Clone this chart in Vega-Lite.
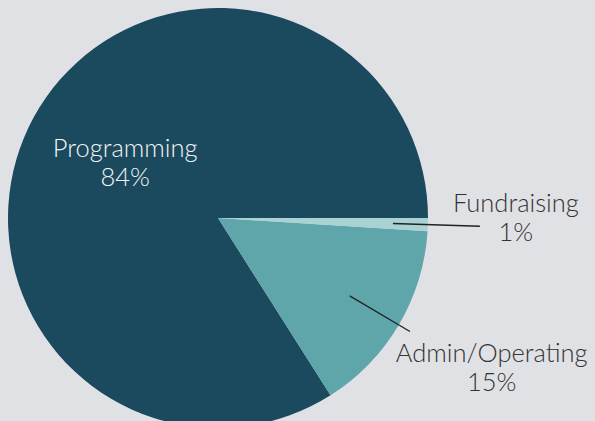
{
  "$schema": "https://vega.github.io/schema/vega-lite/v6.json",
  "autosize": "none",
  "width": 436,
  "height": 436,
  "padding": {"left": 0, "top": 0, "right": 159, "bottom": -15},
  "background": "#e0e1e5",
  "config": {"view": {"stroke": null}},
  "data": {
    "values": [
      {"category": "Programming", "value": 84},
      {"category": "Admin/Operating", "value": 15},
      {"category": "Fundraising", "value": 1}
    ]
  },
  "transform": [
    {"window": [{"op": "sum", "field": "value", "as": "cum"}], "sort": [{"field": "value", "order": "ascending"}], "frame": [null, 0]},
    {"calculate": "datum.cum - datum.value / 2", "as": "mid"},
    {"calculate": "[datum.category, datum.value + '%']", "as": "label"}
  ],
  "layer": [
    {
      "mark": {"type": "arc", "radius": 210},
      "encoding": {
        "theta": {"field": "value", "type": "quantitative", "stack": true, "scale": {"domain": [0, 100], "range": [1.5708, 7.8540]}},
        "order": {"field": "value", "type": "quantitative", "sort": "ascending"},
        "color": {"field": "category", "type": "nominal", "legend": null,
          "scale": {"domain": ["Programming", "Admin/Operating", "Fundraising"], "range": ["#1b4a5e", "#5fa6ab", "#a9d2d5"]}}
      }
    },
    {
      "transform": [{"filter": "datum.category === 'Fundraising'"}],
      "mark": {"type": "arc", "radius": 262, "radius2": 175, "filled": false, "color": "#222222", "strokeWidth": 1.3},
      "encoding": {
        "theta": {"field": "mid", "type": "quantitative", "stack": null},
        "theta2": {"field": "mid"}
      }
    },
    {
      "transform": [{"filter": "datum.category === 'Admin/Operating'"}],
      "mark": {"type": "arc", "radius": 223, "radius2": 153, "filled": false, "color": "#222222", "strokeWidth": 1.3},
      "encoding": {
        "theta": {"field": "mid", "type": "quantitative", "stack": null},
        "theta2": {"field": "mid"}
      }
    },
    {
      "transform": [{"filter": "datum.category === 'Programming'"}],
      "mark": {"type": "text", "radius": 106, "dy": -18, "font": "Lato", "fontWeight": 300, "fontSize": 25.5, "lineHeight": 29, "color": "#f2f4f5", "align": "center", "baseline": "middle"},
      "encoding": {
        "theta": {"field": "mid", "type": "quantitative", "stack": null},
        "text": {"field": "label"}
      }
    },
    {
      "transform": [{"filter": "datum.category === 'Fundraising'"}],
      "mark": {"type": "text", "radius": 298, "dy": -23, "font": "Lato", "fontWeight": 300, "fontSize": 25.5, "lineHeight": 29, "color": "#333333", "align": "center", "baseline": "middle"},
      "encoding": {
        "theta": {"field": "mid", "type": "quantitative", "stack": null},
        "text": {"field": "label"}
      }
    },
    {
      "transform": [{"filter": "datum.category === 'Admin/Operating'"}],
      "mark": {"type": "text", "radius": 318, "dy": -26, "font": "Lato", "fontWeight": 300, "fontSize": 25.5, "lineHeight": 29, "color": "#333333", "align": "center", "baseline": "middle"},
      "encoding": {
        "theta": {"field": "mid", "type": "quantitative", "stack": null},
        "text": {"field": "label"}
      }
    }
  ]
}
